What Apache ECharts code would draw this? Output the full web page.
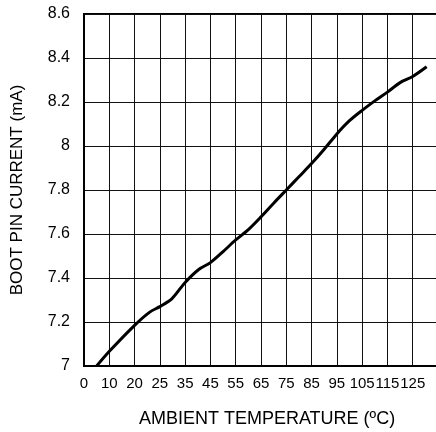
<!DOCTYPE html>
<html>
<head>
<meta charset="utf-8">
<script src="https://cdn.jsdelivr.net/npm/echarts@6/dist/echarts.min.js"></script>
<style>
html,body{margin:0;padding:0;background:#fff;}
#chart{width:436px;height:432px;}
</style>
</head>
<body>
<div id="chart"></div>
<script>
// Tick labels along the x axis (evenly spaced positions 0..13)
var xTickLabels = ['0','10','20','25','35','45','55','65','75','85','95','105','115','125'];
// Curve sample positions along the x axis (in tick-position units)
var xPos = [0.5, 1.03, 2.0, 2.6, 3.0, 3.47, 4.0, 4.55, 5.0, 5.5, 6.0, 6.5, 7.0, 7.5, 8.0, 8.5, 9.0, 9.5, 10.0, 10.5, 11.0, 11.5, 12.0, 12.5, 13.0, 13.55];
// Boot pin current (mA)
var current = [7.00, 7.07, 7.185, 7.245, 7.27, 7.305, 7.38, 7.44, 7.47, 7.52, 7.573, 7.62, 7.678, 7.74, 7.80, 7.86, 7.92, 7.985, 8.055, 8.115, 8.162, 8.205, 8.245, 8.288, 8.316, 8.36];
var yTicks = [7, 7.2, 7.4, 7.6, 7.8, 8, 8.2, 8.4, 8.6];

var data = xPos.map(function(x, i){ return [x, current[i]]; });
var font = 'Liberation Sans, Arial, sans-serif';

var chart = echarts.init(document.getElementById('chart'), null, {renderer:'canvas'});
chart.setOption({
  animation: false,
  backgroundColor: '#fff',
  grid: {left: 84, right: -2, top: 14, bottom: 66, show: true, borderColor: '#000', borderWidth: 2,
         containLabel: false, outerBoundsMode: 'none'},
  xAxis: {
    type: 'value', min: 0, max: 14, interval: 1,
    axisLine: {show: true, lineStyle: {color: '#000', width: 2}},
    axisTick: {show: false},
    splitLine: {show: true, lineStyle: {color: '#111', width: 1}},
    axisLabel: {
      color: '#000', fontFamily: font, fontSize: 15, margin: 10,
      formatter: function(v){ var i = Math.round(v); return xTickLabels[i] !== undefined ? xTickLabels[i] : ''; }
    },
    name: 'AMBIENT TEMPERATURE (ºC)', nameLocation: 'middle', nameGap: 44,
    nameTextStyle: {color: '#000', fontFamily: font, fontSize: 18, padding: [0, 0, 0, 12]}
  },
  yAxis: {
    type: 'value', min: yTicks[0], max: yTicks[yTicks.length-1], interval: 0.2,
    axisLine: {show: true, lineStyle: {color: '#000', width: 2}},
    axisTick: {show: false},
    splitLine: {show: true, lineStyle: {color: '#111', width: 1}},
    axisLabel: {
      color: '#000', fontFamily: font, fontSize: 16, margin: 14,
      formatter: function(v){ return String(Math.round(v*10)/10); }
    },
    name: 'BOOT PIN CURRENT (mA)', nameLocation: 'middle', nameGap: 58, nameRotate: 90,
    nameTextStyle: {color: '#000', fontFamily: font, fontSize: 17}
  },
  series: [{
    type: 'line', data: data, smooth: 0.3, symbol: 'none',
    lineStyle: {color: '#000', width: 3}
  }]
});
</script>
</body>
</html>
